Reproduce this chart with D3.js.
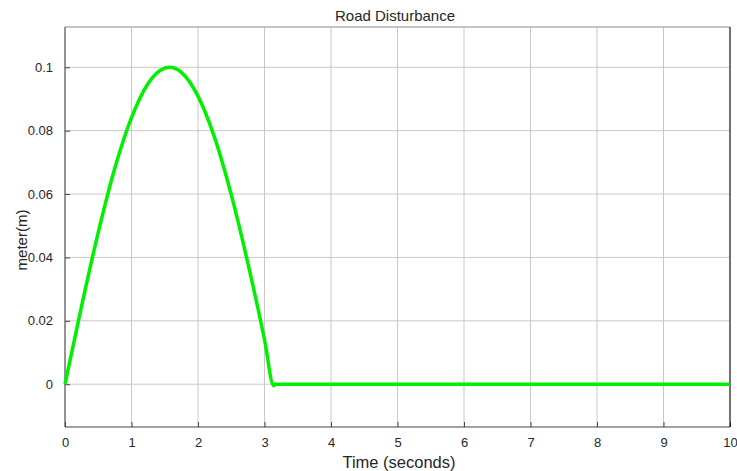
<!DOCTYPE html>
<html>
<head>
<meta charset="utf-8">
<script src="https://cdn.jsdelivr.net/npm/d3@7"></script>
<style>
  body { margin: 0; background: #fff; }
  text { font-family: "Liberation Sans", Arial, sans-serif; fill: #262626; }
</style>
</head>
<body>
<div id="chart"></div>
<script>
// road profile (seconds, metres)
var timeValues = [0, 0.25, 0.5, 0.75, 1, 1.25, 1.5, 1.57, 1.75, 2, 2.25, 2.5, 2.75, 3, 3.14, 3.15, 10];
var heightValues = [0, 0.0247, 0.0479, 0.0682, 0.0841, 0.0949, 0.0997, 0.1, 0.0984, 0.0909, 0.0778, 0.0598, 0.0382, 0.0141, -0.0005, 0, 0];
var xTicks = [0, 1, 2, 3, 4, 5, 6, 7, 8, 9, 10];
var yTicks = [0, 0.02, 0.04, 0.06, 0.08, 0.1];
var yTickLabels = ["0", "0.02", "0.04", "0.06", "0.08", "0.1"];

var width = 737, height = 471;
var margin = { top: 27, right: 7, bottom: 44, left: 65 };
var innerW = width - margin.left - margin.right;
var innerH = height - margin.top - margin.bottom;

var svg = d3.select("#chart").append("svg")
    .attr("width", width)
    .attr("height", height);

var x = d3.scaleLinear().domain([0, 10]).range([0, innerW]);
var y = d3.scaleLinear().domain([-0.0135, 0.1127]).range([innerH, 0]);

var g = svg.append("g").attr("transform", "translate(" + margin.left + "," + margin.top + ")");

// grid
g.selectAll(".vgrid").data(xTicks).enter().append("line")
    .attr("x1", function (d) { return x(d); })
    .attr("x2", function (d) { return x(d); })
    .attr("y1", 0).attr("y2", innerH)
    .attr("stroke", "#c8c8c8").attr("stroke-width", 1);
g.selectAll(".hgrid").data(yTicks).enter().append("line")
    .attr("x1", 0).attr("x2", innerW)
    .attr("y1", function (d) { return y(d); })
    .attr("y2", function (d) { return y(d); })
    .attr("stroke", "#c8c8c8").attr("stroke-width", 1);

// axes
var xAxis = d3.axisBottom(x).tickValues(xTicks).tickSize(-5).tickPadding(11).tickFormat(d3.format("d"));
var yAxis = d3.axisLeft(y).tickValues(yTicks).tickSize(-5).tickPadding(12)
    .tickFormat(function (d, i) { return yTickLabels[i]; });

var xg = g.append("g").attr("transform", "translate(0," + innerH + ")").call(xAxis);
var yg = g.append("g").call(yAxis);
[xg, yg].forEach(function (a) {
    a.select(".domain").remove();
    a.selectAll(".tick line").attr("stroke", "#444");
    a.selectAll(".tick text").attr("font-size", 13).attr("fill", "#262626")
        .attr("font-family", "Liberation Sans, Arial, sans-serif");
});

// box
g.append("line").attr("x1", 0).attr("x2", innerW).attr("y1", 0).attr("y2", 0).attr("stroke", "#888");
g.append("line").attr("x1", 0).attr("x2", innerW).attr("y1", innerH).attr("y2", innerH).attr("stroke", "#444");
g.append("line").attr("x1", 0).attr("x2", 0).attr("y1", 0).attr("y2", innerH).attr("stroke", "#444");
g.append("line").attr("x1", innerW).attr("x2", innerW).attr("y1", 0).attr("y2", innerH).attr("stroke", "#000");

// series
var line = d3.line()
    .x(function (d, i) { return x(timeValues[i]); })
    .y(function (d) { return y(d); })
    .curve(d3.curveMonotoneX);
g.append("path")
    .datum(heightValues)
    .attr("d", line)
    .attr("fill", "none")
    .attr("stroke", "#00f000")
    .attr("stroke-width", 3.5)
    .attr("stroke-linejoin", "round");

// labels
svg.append("text").attr("x", 395).attr("y", 21)
    .attr("text-anchor", "middle").attr("font-size", 15).text("Road Disturbance");
svg.append("text").attr("x", 399).attr("y", 468)
    .attr("text-anchor", "middle").attr("font-size", 16.5).text("Time (seconds)");
svg.append("text").attr("transform", "translate(27,240) rotate(-90)")
    .attr("text-anchor", "middle").attr("font-size", 15).text("meter(m)");
</script>
</body>
</html>
